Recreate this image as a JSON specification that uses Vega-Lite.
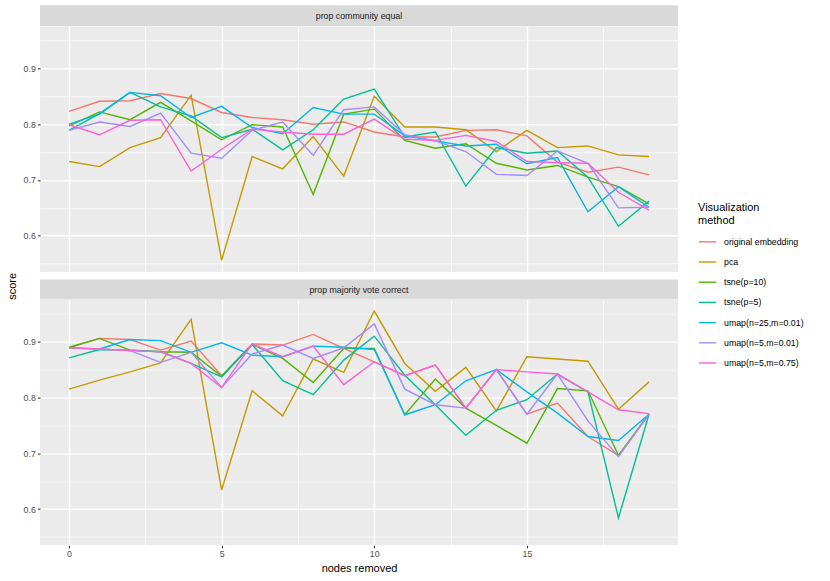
{
  "$schema": "https://vega.github.io/schema/vega-lite/v6.json",
  "padding": {"left": 6, "top": 5.3, "right": 5, "bottom": 5},
  "background": "white",
  "datasets": {
    "community": [
      {"n": 0, "method": "original embedding", "score": 0.823}, {"n": 1, "method": "original embedding", "score": 0.841}, {"n": 2, "method": "original embedding", "score": 0.842}, {"n": 3, "method": "original embedding", "score": 0.855}, {"n": 4, "method": "original embedding", "score": 0.846}, {"n": 5, "method": "original embedding", "score": 0.821}, {"n": 6, "method": "original embedding", "score": 0.812}, {"n": 7, "method": "original embedding", "score": 0.808}, {"n": 8, "method": "original embedding", "score": 0.800}, {"n": 9, "method": "original embedding", "score": 0.804},
      {"n": 10, "method": "original embedding", "score": 0.786}, {"n": 11, "method": "original embedding", "score": 0.777}, {"n": 12, "method": "original embedding", "score": 0.777}, {"n": 13, "method": "original embedding", "score": 0.789}, {"n": 14, "method": "original embedding", "score": 0.790}, {"n": 15, "method": "original embedding", "score": 0.779}, {"n": 16, "method": "original embedding", "score": 0.732}, {"n": 17, "method": "original embedding", "score": 0.714}, {"n": 18, "method": "original embedding", "score": 0.723}, {"n": 19, "method": "original embedding", "score": 0.709},
      {"n": 0, "method": "pca", "score": 0.733}, {"n": 1, "method": "pca", "score": 0.724}, {"n": 2, "method": "pca", "score": 0.758}, {"n": 3, "method": "pca", "score": 0.776}, {"n": 4, "method": "pca", "score": 0.852}, {"n": 5, "method": "pca", "score": 0.556}, {"n": 6, "method": "pca", "score": 0.742}, {"n": 7, "method": "pca", "score": 0.720}, {"n": 8, "method": "pca", "score": 0.778}, {"n": 9, "method": "pca", "score": 0.707},
      {"n": 10, "method": "pca", "score": 0.850}, {"n": 11, "method": "pca", "score": 0.795}, {"n": 12, "method": "pca", "score": 0.795}, {"n": 13, "method": "pca", "score": 0.790}, {"n": 14, "method": "pca", "score": 0.751}, {"n": 15, "method": "pca", "score": 0.789}, {"n": 16, "method": "pca", "score": 0.758}, {"n": 17, "method": "pca", "score": 0.761}, {"n": 18, "method": "pca", "score": 0.745}, {"n": 19, "method": "pca", "score": 0.742},
      {"n": 0, "method": "tsne(p=10)", "score": 0.797}, {"n": 1, "method": "tsne(p=10)", "score": 0.822}, {"n": 2, "method": "tsne(p=10)", "score": 0.808}, {"n": 3, "method": "tsne(p=10)", "score": 0.839}, {"n": 4, "method": "tsne(p=10)", "score": 0.806}, {"n": 5, "method": "tsne(p=10)", "score": 0.772}, {"n": 6, "method": "tsne(p=10)", "score": 0.799}, {"n": 7, "method": "tsne(p=10)", "score": 0.795}, {"n": 8, "method": "tsne(p=10)", "score": 0.674}, {"n": 9, "method": "tsne(p=10)", "score": 0.818},
      {"n": 10, "method": "tsne(p=10)", "score": 0.827}, {"n": 11, "method": "tsne(p=10)", "score": 0.771}, {"n": 12, "method": "tsne(p=10)", "score": 0.757}, {"n": 13, "method": "tsne(p=10)", "score": 0.765}, {"n": 14, "method": "tsne(p=10)", "score": 0.730}, {"n": 15, "method": "tsne(p=10)", "score": 0.718}, {"n": 16, "method": "tsne(p=10)", "score": 0.726}, {"n": 17, "method": "tsne(p=10)", "score": 0.705}, {"n": 18, "method": "tsne(p=10)", "score": 0.688}, {"n": 19, "method": "tsne(p=10)", "score": 0.657},
      {"n": 0, "method": "tsne(p=5)", "score": 0.789}, {"n": 1, "method": "tsne(p=5)", "score": 0.819}, {"n": 2, "method": "tsne(p=5)", "score": 0.857}, {"n": 3, "method": "tsne(p=5)", "score": 0.831}, {"n": 4, "method": "tsne(p=5)", "score": 0.815}, {"n": 5, "method": "tsne(p=5)", "score": 0.776}, {"n": 6, "method": "tsne(p=5)", "score": 0.791}, {"n": 7, "method": "tsne(p=5)", "score": 0.754}, {"n": 8, "method": "tsne(p=5)", "score": 0.790}, {"n": 9, "method": "tsne(p=5)", "score": 0.845},
      {"n": 10, "method": "tsne(p=5)", "score": 0.863}, {"n": 11, "method": "tsne(p=5)", "score": 0.777}, {"n": 12, "method": "tsne(p=5)", "score": 0.786}, {"n": 13, "method": "tsne(p=5)", "score": 0.689}, {"n": 14, "method": "tsne(p=5)", "score": 0.758}, {"n": 15, "method": "tsne(p=5)", "score": 0.748}, {"n": 16, "method": "tsne(p=5)", "score": 0.752}, {"n": 17, "method": "tsne(p=5)", "score": 0.705}, {"n": 18, "method": "tsne(p=5)", "score": 0.617}, {"n": 19, "method": "tsne(p=5)", "score": 0.662},
      {"n": 0, "method": "umap(n=25,m=0.01)", "score": 0.800}, {"n": 1, "method": "umap(n=25,m=0.01)", "score": 0.818}, {"n": 2, "method": "umap(n=25,m=0.01)", "score": 0.857}, {"n": 3, "method": "umap(n=25,m=0.01)", "score": 0.851}, {"n": 4, "method": "umap(n=25,m=0.01)", "score": 0.812}, {"n": 5, "method": "umap(n=25,m=0.01)", "score": 0.832}, {"n": 6, "method": "umap(n=25,m=0.01)", "score": 0.794}, {"n": 7, "method": "umap(n=25,m=0.01)", "score": 0.783}, {"n": 8, "method": "umap(n=25,m=0.01)", "score": 0.830}, {"n": 9, "method": "umap(n=25,m=0.01)", "score": 0.818},
      {"n": 10, "method": "umap(n=25,m=0.01)", "score": 0.818}, {"n": 11, "method": "umap(n=25,m=0.01)", "score": 0.779}, {"n": 12, "method": "umap(n=25,m=0.01)", "score": 0.770}, {"n": 13, "method": "umap(n=25,m=0.01)", "score": 0.761}, {"n": 14, "method": "umap(n=25,m=0.01)", "score": 0.764}, {"n": 15, "method": "umap(n=25,m=0.01)", "score": 0.729}, {"n": 16, "method": "umap(n=25,m=0.01)", "score": 0.740}, {"n": 17, "method": "umap(n=25,m=0.01)", "score": 0.643}, {"n": 18, "method": "umap(n=25,m=0.01)", "score": 0.688}, {"n": 19, "method": "umap(n=25,m=0.01)", "score": 0.651},
      {"n": 0, "method": "umap(n=5,m=0.01)", "score": 0.789}, {"n": 1, "method": "umap(n=5,m=0.01)", "score": 0.804}, {"n": 2, "method": "umap(n=5,m=0.01)", "score": 0.796}, {"n": 3, "method": "umap(n=5,m=0.01)", "score": 0.820}, {"n": 4, "method": "umap(n=5,m=0.01)", "score": 0.748}, {"n": 5, "method": "umap(n=5,m=0.01)", "score": 0.739}, {"n": 6, "method": "umap(n=5,m=0.01)", "score": 0.789}, {"n": 7, "method": "umap(n=5,m=0.01)", "score": 0.804}, {"n": 8, "method": "umap(n=5,m=0.01)", "score": 0.744}, {"n": 9, "method": "umap(n=5,m=0.01)", "score": 0.826},
      {"n": 10, "method": "umap(n=5,m=0.01)", "score": 0.831}, {"n": 11, "method": "umap(n=5,m=0.01)", "score": 0.781}, {"n": 12, "method": "umap(n=5,m=0.01)", "score": 0.770}, {"n": 13, "method": "umap(n=5,m=0.01)", "score": 0.751}, {"n": 14, "method": "umap(n=5,m=0.01)", "score": 0.710}, {"n": 15, "method": "umap(n=5,m=0.01)", "score": 0.708}, {"n": 16, "method": "umap(n=5,m=0.01)", "score": 0.752}, {"n": 17, "method": "umap(n=5,m=0.01)", "score": 0.730}, {"n": 18, "method": "umap(n=5,m=0.01)", "score": 0.650}, {"n": 19, "method": "umap(n=5,m=0.01)", "score": 0.651},
      {"n": 0, "method": "umap(n=5,m=0.75)", "score": 0.799}, {"n": 1, "method": "umap(n=5,m=0.75)", "score": 0.781}, {"n": 2, "method": "umap(n=5,m=0.75)", "score": 0.807}, {"n": 3, "method": "umap(n=5,m=0.75)", "score": 0.808}, {"n": 4, "method": "umap(n=5,m=0.75)", "score": 0.716}, {"n": 5, "method": "umap(n=5,m=0.75)", "score": 0.755}, {"n": 6, "method": "umap(n=5,m=0.75)", "score": 0.791}, {"n": 7, "method": "umap(n=5,m=0.75)", "score": 0.786}, {"n": 8, "method": "umap(n=5,m=0.75)", "score": 0.782}, {"n": 9, "method": "umap(n=5,m=0.75)", "score": 0.782},
      {"n": 10, "method": "umap(n=5,m=0.75)", "score": 0.809}, {"n": 11, "method": "umap(n=5,m=0.75)", "score": 0.773}, {"n": 12, "method": "umap(n=5,m=0.75)", "score": 0.771}, {"n": 13, "method": "umap(n=5,m=0.75)", "score": 0.780}, {"n": 14, "method": "umap(n=5,m=0.75)", "score": 0.769}, {"n": 15, "method": "umap(n=5,m=0.75)", "score": 0.733}, {"n": 16, "method": "umap(n=5,m=0.75)", "score": 0.731}, {"n": 17, "method": "umap(n=5,m=0.75)", "score": 0.730}, {"n": 18, "method": "umap(n=5,m=0.75)", "score": 0.678}, {"n": 19, "method": "umap(n=5,m=0.75)", "score": 0.646}
    ],
    "majority": [
      {"n": 0, "method": "original embedding", "score": 0.889}, {"n": 1, "method": "original embedding", "score": 0.906}, {"n": 2, "method": "original embedding", "score": 0.904}, {"n": 3, "method": "original embedding", "score": 0.885}, {"n": 4, "method": "original embedding", "score": 0.901}, {"n": 5, "method": "original embedding", "score": 0.839}, {"n": 6, "method": "original embedding", "score": 0.896}, {"n": 7, "method": "original embedding", "score": 0.894}, {"n": 8, "method": "original embedding", "score": 0.913}, {"n": 9, "method": "original embedding", "score": 0.888},
      {"n": 10, "method": "original embedding", "score": 0.864}, {"n": 11, "method": "original embedding", "score": 0.839}, {"n": 12, "method": "original embedding", "score": 0.858}, {"n": 13, "method": "original embedding", "score": 0.781}, {"n": 14, "method": "original embedding", "score": 0.850}, {"n": 15, "method": "original embedding", "score": 0.770}, {"n": 16, "method": "original embedding", "score": 0.790}, {"n": 17, "method": "original embedding", "score": 0.730}, {"n": 18, "method": "original embedding", "score": 0.696}, {"n": 19, "method": "original embedding", "score": 0.770},
      {"n": 0, "method": "pca", "score": 0.815}, {"n": 1, "method": "pca", "score": 0.831}, {"n": 2, "method": "pca", "score": 0.846}, {"n": 3, "method": "pca", "score": 0.862}, {"n": 4, "method": "pca", "score": 0.940}, {"n": 5, "method": "pca", "score": 0.634}, {"n": 6, "method": "pca", "score": 0.812}, {"n": 7, "method": "pca", "score": 0.767}, {"n": 8, "method": "pca", "score": 0.869}, {"n": 9, "method": "pca", "score": 0.845},
      {"n": 10, "method": "pca", "score": 0.955}, {"n": 11, "method": "pca", "score": 0.861}, {"n": 12, "method": "pca", "score": 0.811}, {"n": 13, "method": "pca", "score": 0.854}, {"n": 14, "method": "pca", "score": 0.776}, {"n": 15, "method": "pca", "score": 0.873}, {"n": 16, "method": "pca", "score": 0.869}, {"n": 17, "method": "pca", "score": 0.865}, {"n": 18, "method": "pca", "score": 0.779}, {"n": 19, "method": "pca", "score": 0.828},
      {"n": 0, "method": "tsne(p=10)", "score": 0.890}, {"n": 1, "method": "tsne(p=10)", "score": 0.906}, {"n": 2, "method": "tsne(p=10)", "score": 0.885}, {"n": 3, "method": "tsne(p=10)", "score": 0.882}, {"n": 4, "method": "tsne(p=10)", "score": 0.881}, {"n": 5, "method": "tsne(p=10)", "score": 0.838}, {"n": 6, "method": "tsne(p=10)", "score": 0.895}, {"n": 7, "method": "tsne(p=10)", "score": 0.870}, {"n": 8, "method": "tsne(p=10)", "score": 0.827}, {"n": 9, "method": "tsne(p=10)", "score": 0.888},
      {"n": 10, "method": "tsne(p=10)", "score": 0.888}, {"n": 11, "method": "tsne(p=10)", "score": 0.769}, {"n": 12, "method": "tsne(p=10)", "score": 0.833}, {"n": 13, "method": "tsne(p=10)", "score": 0.781}, {"n": 14, "method": "tsne(p=10)", "score": 0.750}, {"n": 15, "method": "tsne(p=10)", "score": 0.718}, {"n": 16, "method": "tsne(p=10)", "score": 0.816}, {"n": 17, "method": "tsne(p=10)", "score": 0.812}, {"n": 18, "method": "tsne(p=10)", "score": 0.696}, {"n": 19, "method": "tsne(p=10)", "score": 0.770},
      {"n": 0, "method": "tsne(p=5)", "score": 0.871}, {"n": 1, "method": "tsne(p=5)", "score": 0.886}, {"n": 2, "method": "tsne(p=5)", "score": 0.885}, {"n": 3, "method": "tsne(p=5)", "score": 0.882}, {"n": 4, "method": "tsne(p=5)", "score": 0.861}, {"n": 5, "method": "tsne(p=5)", "score": 0.837}, {"n": 6, "method": "tsne(p=5)", "score": 0.895}, {"n": 7, "method": "tsne(p=5)", "score": 0.830}, {"n": 8, "method": "tsne(p=5)", "score": 0.805}, {"n": 9, "method": "tsne(p=5)", "score": 0.867},
      {"n": 10, "method": "tsne(p=5)", "score": 0.910}, {"n": 11, "method": "tsne(p=5)", "score": 0.840}, {"n": 12, "method": "tsne(p=5)", "score": 0.787}, {"n": 13, "method": "tsne(p=5)", "score": 0.732}, {"n": 14, "method": "tsne(p=5)", "score": 0.777}, {"n": 15, "method": "tsne(p=5)", "score": 0.796}, {"n": 16, "method": "tsne(p=5)", "score": 0.842}, {"n": 17, "method": "tsne(p=5)", "score": 0.810}, {"n": 18, "method": "tsne(p=5)", "score": 0.584}, {"n": 19, "method": "tsne(p=5)", "score": 0.770},
      {"n": 0, "method": "umap(n=25,m=0.01)", "score": 0.889}, {"n": 1, "method": "umap(n=25,m=0.01)", "score": 0.887}, {"n": 2, "method": "umap(n=25,m=0.01)", "score": 0.904}, {"n": 3, "method": "umap(n=25,m=0.01)", "score": 0.902}, {"n": 4, "method": "umap(n=25,m=0.01)", "score": 0.881}, {"n": 5, "method": "umap(n=25,m=0.01)", "score": 0.898}, {"n": 6, "method": "umap(n=25,m=0.01)", "score": 0.876}, {"n": 7, "method": "umap(n=25,m=0.01)", "score": 0.873}, {"n": 8, "method": "umap(n=25,m=0.01)", "score": 0.892}, {"n": 9, "method": "umap(n=25,m=0.01)", "score": 0.890},
      {"n": 10, "method": "umap(n=25,m=0.01)", "score": 0.886}, {"n": 11, "method": "umap(n=25,m=0.01)", "score": 0.769}, {"n": 12, "method": "umap(n=25,m=0.01)", "score": 0.787}, {"n": 13, "method": "umap(n=25,m=0.01)", "score": 0.830}, {"n": 14, "method": "umap(n=25,m=0.01)", "score": 0.850}, {"n": 15, "method": "umap(n=25,m=0.01)", "score": 0.810}, {"n": 16, "method": "umap(n=25,m=0.01)", "score": 0.772}, {"n": 17, "method": "umap(n=25,m=0.01)", "score": 0.730}, {"n": 18, "method": "umap(n=25,m=0.01)", "score": 0.723}, {"n": 19, "method": "umap(n=25,m=0.01)", "score": 0.770},
      {"n": 0, "method": "umap(n=5,m=0.01)", "score": 0.889}, {"n": 1, "method": "umap(n=5,m=0.01)", "score": 0.887}, {"n": 2, "method": "umap(n=5,m=0.01)", "score": 0.884}, {"n": 3, "method": "umap(n=5,m=0.01)", "score": 0.863}, {"n": 4, "method": "umap(n=5,m=0.01)", "score": 0.881}, {"n": 5, "method": "umap(n=5,m=0.01)", "score": 0.818}, {"n": 6, "method": "umap(n=5,m=0.01)", "score": 0.878}, {"n": 7, "method": "umap(n=5,m=0.01)", "score": 0.894}, {"n": 8, "method": "umap(n=5,m=0.01)", "score": 0.870}, {"n": 9, "method": "umap(n=5,m=0.01)", "score": 0.889},
      {"n": 10, "method": "umap(n=5,m=0.01)", "score": 0.932}, {"n": 11, "method": "umap(n=5,m=0.01)", "score": 0.815}, {"n": 12, "method": "umap(n=5,m=0.01)", "score": 0.787}, {"n": 13, "method": "umap(n=5,m=0.01)", "score": 0.781}, {"n": 14, "method": "umap(n=5,m=0.01)", "score": 0.850}, {"n": 15, "method": "umap(n=5,m=0.01)", "score": 0.770}, {"n": 16, "method": "umap(n=5,m=0.01)", "score": 0.842}, {"n": 17, "method": "umap(n=5,m=0.01)", "score": 0.758}, {"n": 18, "method": "umap(n=5,m=0.01)", "score": 0.694}, {"n": 19, "method": "umap(n=5,m=0.01)", "score": 0.770},
      {"n": 0, "method": "umap(n=5,m=0.75)", "score": 0.889}, {"n": 1, "method": "umap(n=5,m=0.75)", "score": 0.887}, {"n": 2, "method": "umap(n=5,m=0.75)", "score": 0.884}, {"n": 3, "method": "umap(n=5,m=0.75)", "score": 0.882}, {"n": 4, "method": "umap(n=5,m=0.75)", "score": 0.861}, {"n": 5, "method": "umap(n=5,m=0.75)", "score": 0.818}, {"n": 6, "method": "umap(n=5,m=0.75)", "score": 0.896}, {"n": 7, "method": "umap(n=5,m=0.75)", "score": 0.873}, {"n": 8, "method": "umap(n=5,m=0.75)", "score": 0.892}, {"n": 9, "method": "umap(n=5,m=0.75)", "score": 0.823},
      {"n": 10, "method": "umap(n=5,m=0.75)", "score": 0.864}, {"n": 11, "method": "umap(n=5,m=0.75)", "score": 0.839}, {"n": 12, "method": "umap(n=5,m=0.75)", "score": 0.858}, {"n": 13, "method": "umap(n=5,m=0.75)", "score": 0.781}, {"n": 14, "method": "umap(n=5,m=0.75)", "score": 0.850}, {"n": 15, "method": "umap(n=5,m=0.75)", "score": 0.846}, {"n": 16, "method": "umap(n=5,m=0.75)", "score": 0.842}, {"n": 17, "method": "umap(n=5,m=0.75)", "score": 0.810}, {"n": 18, "method": "umap(n=5,m=0.75)", "score": 0.778}, {"n": 19, "method": "umap(n=5,m=0.75)", "score": 0.771}
    ]
  },
  "spacing": -0.7,
  "vconcat": [
    {
      "spacing": 0,
      "vconcat": [
        {
          "width": 638,
          "height": 20.7,
          "data": {"values": [{"label": "prop community equal"}]},
          "mark": {"type": "text", "fontSize": 8.8, "color": "#1A1A1A"},
          "encoding": {"text": {"field": "label"}},
          "view": {"fill": "#D9D9D9", "stroke": null}
        },
        {
          "width": 638,
          "height": 245.7,
          "data": {"name": "community"},
          "mark": {"type": "line", "strokeWidth": 1.4},
          "encoding": {
            "x": {
              "field": "n", "type": "quantitative",
              "scale": {"domain": [-0.95, 19.95], "nice": false, "zero": false},
              "axis": {
                "values": [0, 2.5, 5, 7.5, 10, 12.5, 15, 17.5],
                "labels": false, "ticks": false, "domain": false, "title": null,
                "gridWidth": {"condition": {"test": "datum.value % 5 === 0", "value": 1.4}, "value": 0.7}
              }
            },
            "y": {
              "field": "score", "type": "quantitative",
              "scale": {"domain": [0.535, 0.9755], "nice": false, "zero": false},
              "axis": {
                "title": null,
                "values": [0.55, 0.6, 0.65, 0.7, 0.75, 0.8, 0.85, 0.9, 0.95],
                "format": ".1f",
                "labelExpr": "abs(datum.value * 10 - round(datum.value * 10)) < 0.001 ? datum.label : ''",
                "tickOpacity": {"condition": {"test": "abs(datum.value * 10 - round(datum.value * 10)) < 0.001", "value": 1}, "value": 0},
                "gridWidth": {"condition": {"test": "abs(datum.value * 10 - round(datum.value * 10)) < 0.001", "value": 1.4}, "value": 0.7}
              }
            },
            "color": {
              "field": "method", "type": "nominal",
              "scale": {
                "domain": ["original embedding", "pca", "tsne(p=10)", "tsne(p=5)", "umap(n=25,m=0.01)", "umap(n=5,m=0.01)", "umap(n=5,m=0.75)"],
                "range": ["#F8766D", "#C49A00", "#53B400", "#00C094", "#00B6EB", "#A58AFF", "#FB61D7"]
              },
              "legend": {
                "title": ["Visualization", "method"],
                "orient": "none", "legendX": 658, "legendY": 197
              }
            }
          },
          "view": {"fill": "#EBEBEB", "stroke": null}
        }
      ]
    },
    {
      "spacing": 0,
      "vconcat": [
        {
          "width": 638,
          "height": 20,
          "data": {"values": [{"label": "prop majority vote correct"}]},
          "mark": {"type": "text", "fontSize": 8.8, "color": "#1A1A1A"},
          "encoding": {
            "text": {"field": "label"},
            "y": {
              "datum": "strip", "type": "nominal",
              "axis": {
                "title": "score", "titleX": -23, "titleY": 6.2,
                "labels": false, "ticks": false, "domain": false, "grid": false
              }
            }
          },
          "view": {"fill": "#D9D9D9", "stroke": null}
        },
        {
          "width": 638,
          "height": 245.7,
          "data": {"name": "majority"},
          "mark": {"type": "line", "strokeWidth": 1.4},
          "encoding": {
            "x": {
              "field": "n", "type": "quantitative",
              "scale": {"domain": [-0.95, 19.95], "nice": false, "zero": false},
              "axis": {
                "title": "nodes removed",
                "values": [0, 2.5, 5, 7.5, 10, 12.5, 15, 17.5],
                "format": "d",
                "labelExpr": "datum.value % 5 === 0 ? datum.label : ''",
                "tickOpacity": {"condition": {"test": "datum.value % 5 === 0", "value": 1}, "value": 0},
                "gridWidth": {"condition": {"test": "datum.value % 5 === 0", "value": 1.4}, "value": 0.7}
              }
            },
            "y": {
              "field": "score", "type": "quantitative",
              "scale": {"domain": [0.535, 0.9755], "nice": false, "zero": false},
              "axis": {
                "title": null,
                "values": [0.55, 0.6, 0.65, 0.7, 0.75, 0.8, 0.85, 0.9, 0.95],
                "format": ".1f",
                "labelExpr": "abs(datum.value * 10 - round(datum.value * 10)) < 0.001 ? datum.label : ''",
                "tickOpacity": {"condition": {"test": "abs(datum.value * 10 - round(datum.value * 10)) < 0.001", "value": 1}, "value": 0},
                "gridWidth": {"condition": {"test": "abs(datum.value * 10 - round(datum.value * 10)) < 0.001", "value": 1.4}, "value": 0.7}
              }
            },
            "color": {
              "field": "method", "type": "nominal",
              "scale": {
                "domain": ["original embedding", "pca", "tsne(p=10)", "tsne(p=5)", "umap(n=25,m=0.01)", "umap(n=5,m=0.01)", "umap(n=5,m=0.75)"],
                "range": ["#F8766D", "#C49A00", "#53B400", "#00C094", "#00B6EB", "#A58AFF", "#FB61D7"]
              },
              "legend": {
                "title": ["Visualization", "method"],
                "orient": "none", "legendX": 658, "legendY": 197
              }
            }
          },
          "view": {"fill": "#EBEBEB", "stroke": null}
        }
      ]
    }
  ],
  "config": {
    "font": "Liberation Sans",
    "axis": {
      "domain": false,
      "grid": true,
      "gridColor": "#FFFFFF",
      "tickColor": "#333333",
      "tickSize": 2.5,
      "tickWidth": 1.1,
      "labelColor": "#4D4D4D",
      "labelFontSize": 8.8,
      "labelPadding": 2.2,
      "titleColor": "#000000",
      "titleFontSize": 11,
      "titleFontWeight": "normal",
      "titlePadding": 4
    },
    "legend": {
      "symbolType": "stroke",
      "symbolSize": 300,
      "symbolStrokeWidth": 1.4,
      "labelFontSize": 8.8,
      "labelColor": "#000000",
      "labelOffset": 7,
      "titleFontSize": 11,
      "titleFontWeight": "normal",
      "titleColor": "#000000",
      "titleLineHeight": 13,
      "titlePadding": 6,
      "rowPadding": 5.2
    }
  }
}
